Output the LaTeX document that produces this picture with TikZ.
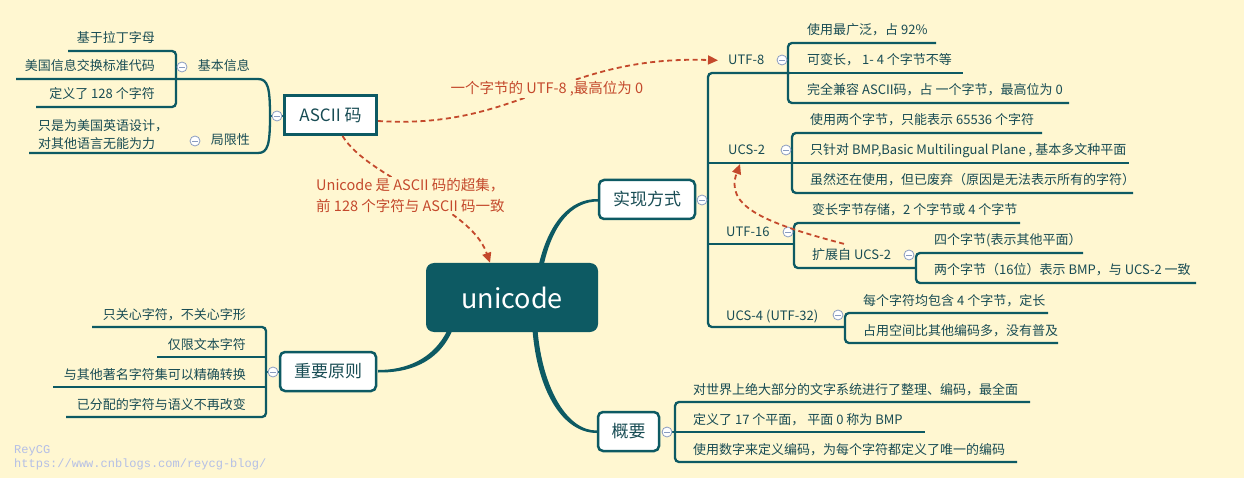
\documentclass[tikz,border=0pt]{standalone}
\usepackage{fontspec}
\setmainfont{Noto Sans CJK SC}
\newfontfamily\wmfont{Liberation Mono}
\usetikzlibrary{arrows.meta}
\definecolor{bg}{HTML}{FFF7D1}
\definecolor{tealc}{HTML}{0D5A63}
\definecolor{txt}{HTML}{184C54}
\definecolor{relc}{HTML}{C4492C}
\definecolor{cbd}{HTML}{8A9CC0}
\definecolor{wm}{HTML}{B4BFE6}
\tikzset{
  br/.style={draw=tealc, line width=2.3pt, rounded corners=4pt},
  leaf/.style={text=txt, font=\fontsize{13}{16}\selectfont, inner sep=0pt},
  topic/.style={draw=tealc, fill=white, line width=2.5pt, rounded corners=5pt, text=txt,
    font=\fontsize{17}{20}\selectfont, inner sep=0pt, minimum height=39pt},
  rel/.style={draw=relc, line width=1.8pt, dash pattern=on 5pt off 3.5pt,
    -{Triangle[length=10pt,width=9pt]}},
  reltxt/.style={text=relc, font=\fontsize{14.5}{21}\selectfont, inner sep=1pt},
  coll/.style={circle, draw=cbd, fill=white, line width=0.8pt, minimum size=10pt, inner sep=0pt,
    path picture={\draw[line width=0.8pt, cbd]
      ([xshift=-2.6pt]path picture bounding box.center) -- ([xshift=2.6pt]path picture bounding box.center);}},
  taper/.style={fill=tealc, draw=none}
}
\begin{document}
\begin{tikzpicture}[x=1pt,y=-1pt]
\useasboundingbox (0,0) rectangle (1244,478);
\fill[bg] (0,0) rectangle (1244,478);

% tapered main branches
\fill[taper] (538.5,266) .. controls (548,224) and (569,198.5) .. (598,199) -- (598,201.5) .. controls (571,201.5) and (552,226) .. (543.5,266) -- cycle;
\fill[taper] (447.5,330) .. controls (433,360) and (405,370) .. (378,370) -- (378,372.5) .. controls (407,373) and (438,364) .. (452.5,330) -- cycle;
\fill[taper] (532.5,330) .. controls (537.5,392) and (563,433) .. (597,433) -- (597,430.5) .. controls (567,431) and (542.5,388) .. (537.5,330) -- cycle;

% ---------- central node
\node[fill=tealc, rounded corners=8pt, minimum width=172pt, minimum height=69pt, text=white,
  font=\fontsize{27}{30}\selectfont, inner sep=0pt] (uni) at (512,297.5) {unicode};

% ---------- 实现方式
\node[topic, minimum width=96pt] (sx) at (647,199.5) {实现方式};
\draw[br] (697,200) -- (708,200);
\draw[br] (790,73) -- (708,73) -- (708,327) -- (845,327);
\draw[br] (708,163) -- (792,163);
\draw[br] (708,244) -- (794,244);
\node[coll] (sxc) at (702,200) {};

% UTF-8
\node[leaf, anchor=base west] (u8) at (728,65) {UTF-8};
\draw[br] (936,43) -- (788,43) -- (788,103) -- (1069,103);
\draw[br] (788,73) -- (963,73);
\node[coll] at (782,60) {};
\node[leaf, anchor=base west] (u8a) at (807,35) {使用最广泛，占 92\%};
\node[leaf, anchor=base west] (u8b) at (807,65) {可变长， 1- 4 个字节不等};
\node[leaf, anchor=base west] (u8c) at (807,95) {完全兼容 ASCII码，占 一个字节，最高位为 0};

% UCS-2
\node[leaf, anchor=base west] (ucs2) at (728,155) {UCS-2};
\draw[br] (1042,133) -- (792,133) -- (792,193) -- (1133,193);
\draw[br] (792,163) -- (1129,163);
\node[coll] at (786,150) {};
\node[leaf, anchor=base west] (ucs2a) at (810,125) {使用两个字节，只能表示 65536 个字符};
\node[leaf, anchor=base west] (ucs2b) at (810,155) {只针对 BMP,Basic Multilingual Plane , 基本多文种平面};
\node[leaf, anchor=base west] (ucs2c) at (810,185) {虽然还在使用，但已废弃（原因是无法表示所有的字符）};
\coordinate (ucs2u) at (740,164);

% UTF-16
\node[leaf, anchor=base west] (u16) at (726,237) {UTF-16};
\draw[br] (1020,223) -- (794,223) -- (794,268) -- (916,268);
\node[coll] at (788,232) {};
\node[leaf, anchor=base west] (u16a) at (812,215) {变长字节存储，2 个字节或 4 个字节};
\node[leaf, anchor=base west] (ext) at (812,260) {扩展自 UCS-2};
\draw[br] (1083,253) -- (916,253) -- (916,283) -- (1196,283);
\node[coll] at (909,255) {};
\node[leaf, anchor=base west] (exta) at (934,245) {四个字节(表示其他平面）};
\node[leaf, anchor=base west] (extb) at (934,275) {两个字节（16位）表示 BMP，与 UCS-2 一致};

% UCS-4
\node[leaf, anchor=base west] (ucs4) at (726,320) {UCS-4 (UTF-32)};
\draw[br] (1048,313) -- (845,313) -- (845,343) -- (1058,343);
\node[coll] at (838,315) {};
\node[leaf, anchor=base west] (ucs4a) at (863,305) {每个字符均包含 4 个字节，定长};
\node[leaf, anchor=base west] (ucs4b) at (863,335) {占用空间比其他编码多，没有普及};

% ---------- 概要
\node[topic, minimum width=61pt] (gy) at (628.5,431.5) {概要};
\draw[br] (1030,402) -- (675,402) -- (675,462) -- (1017,462);
\draw[br] (662,432) -- (925,432);
\node[coll] at (667,432) {};
\node[leaf, anchor=base west] (gya) at (693,394) {对世界上绝大部分的文字系统进行了整理、编码，最全面};
\node[leaf, anchor=base west] (gyb) at (693,424) {定义了 17 个平面， 平面 0 称为 BMP};
\node[leaf, anchor=base west] (gyc) at (693,454) {使用数字来定义编码，为每个字符都定义了唯一的编码};

% ---------- 重要原则
\node[topic, minimum width=96pt] (zy) at (328,371.5) {重要原则};
\draw[br] (92,327) -- (266,327) -- (266,417) -- (66,417);
\draw[br] (157,357) -- (266,357);
\draw[br] (53,387) -- (266,387);
\draw[br] (266,372) -- (279,372);
\node[coll] at (273,372) {};
\node[leaf, anchor=base east] (zya) at (246,319) {只关心字符，不关心字形};
\node[leaf, anchor=base east] (zyb) at (246,349) {仅限文本字符};
\node[leaf, anchor=base east] (zyc) at (246,379) {与其他著名字符集可以精确转换};
\node[leaf, anchor=base east] (zyd) at (246,409) {已分配的字符与语义不再改变};

% ---------- ASCII 码
\node[draw=tealc, fill=white, line width=3pt, minimum width=92pt, minimum height=39pt, text=txt,
  font=\fontsize{17}{20}\selectfont, inner sep=0pt] (ascii) at (330.5,115) {ASCII 码};
\draw[br, rounded corners=0pt] (16,79) -- (258,79) .. controls (268,79) and (270,88) .. (270,116)
  .. controls (270,144) and (268,153) .. (258,153) -- (29,153);
\draw[br] (270,116) -- (283,116);
\node[coll] at (277,116) {};
\node[leaf, anchor=base east] (jb) at (250,71) {基本信息};
\draw[br] (68,51) -- (176,51) -- (176,107) -- (36,107);
\node[coll] at (182,67) {};
\node[leaf, anchor=base east] (jba) at (155,43) {基于拉丁字母};
\node[leaf, anchor=base east] (jbb) at (155,71) {美国信息交换标准代码};
\node[leaf, anchor=base east] (jbc) at (155,99) {定义了 128 个字符};
\node[leaf, anchor=base east] (jx) at (250,145) {局限性};
\node[coll] at (195,141) {};
\node[leaf, anchor=south west, align=left, font=\fontsize{13}{18}\selectfont] (jxa) at (38,150)
  {只是为美国英语设计，\\对其他语言无能为力};

% ---------- relationship connectors
\draw[rel] ([yshift=-6pt]ascii.east) .. controls (520,130) and (560,55) .. ([xshift=-10pt]u8.west);
\node[reltxt, fill=bg] (l1) at (547,89) {一个字节的 UTF-8 ,最高位为 0};
\draw[rel] ([xshift=12pt]ascii.south) .. controls (370,180) and (470,205) .. ([xshift=-22pt]uni.north);
\node[reltxt, fill=bg, anchor=north west, align=left] (l2) at (315,177)
  {Unicode 是 ASCII 码的超集，\\前 128 个字符与 ASCII 码一致};
\draw[rel] ([xshift=32pt,yshift=5pt]ext.north west) .. controls (760,222) and (725,205) .. (ucs2u);

% ---------- watermark
\node[anchor=base west, inner sep=0pt, text=wm, font=\wmfont\fontsize{12}{14}\selectfont] (wm1) at (14,453) {ReyCG};
\node[anchor=base west, inner sep=0pt, text=wm, font=\wmfont\fontsize{12}{14}\selectfont] (wm2) at (14,467) {https://www.cnblogs.com/reycg-blog/};
\end{tikzpicture}
\end{document}
